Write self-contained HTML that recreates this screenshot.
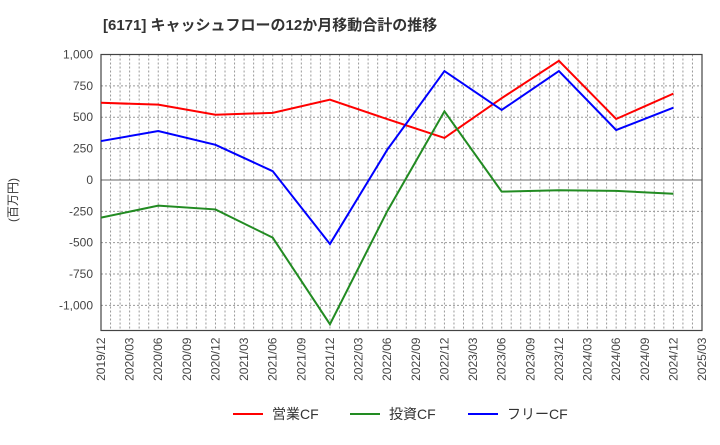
<!DOCTYPE html>
<html><head><meta charset="utf-8"><style>
body{margin:0;background:#fff;font-family:"Liberation Sans","Noto Sans CJK JP",sans-serif}
</style></head><body>
<svg id="c" width="720" height="440" xmlns="http://www.w3.org/2000/svg" font-family="Liberation Sans, Noto Sans CJK JP, sans-serif">
<text x="103" y="30" font-size="15" font-weight="bold" fill="#333">[6171]  キャッシュフローの12か月移動合計の推移</text>
<text transform="translate(17,200) rotate(-90)" text-anchor="middle" font-size="12" fill="#333">(百万円)</text>
<g id="grid"></g><g id="axes"></g><g id="series"></g><g id="legend"></g>
</svg>
<script>
const xLabels=["2019/12","2020/03","2020/06","2020/09","2020/12","2021/03","2021/06","2021/09","2021/12","2022/03","2022/06","2022/09","2022/12","2023/03","2023/06","2023/09","2023/12","2024/03","2024/06","2024/09","2024/12","2025/03"];
const yTicks=[1000,750,500,250,0,-250,-500,-750,-1000];
const pointIdx=[0,2,4,6,8,10,12,14,16,18,20];
const opCF=[615,600,520,535,640,485,335,652,950,486,688];
const invCF=[-300,-205,-235,-460,-1150,-250,547,-93,-82,-87,-110];
const freeCF=[310,390,280,70,-510,240,868,558,868,398,576];
const names=["営業CF","投資CF","フリーCF"];
const L=101,R=702,T=54.5,B=330.5,ymax=1000,ymin=-1200;
const X=i=>L+i*(R-L)/(xLabels.length-1);
const Y=v=>T+(ymax-v)*(B-T)/(ymax-ymin);
const NS="http://www.w3.org/2000/svg";
function mk(t,a,p){const e=document.createElementNS(NS,t);for(const k in a)e.setAttribute(k,a[k]);p.appendChild(e);return e;}
const g=document.getElementById('grid'),ax=document.getElementById('axes'),s=document.getElementById('series'),lg=document.getElementById('legend');
for(let m=1;m<(xLabels.length-1)*3;m++){const x=L+m*(R-L)/((xLabels.length-1)*3);
const l=mk('line',{x1:x,x2:x,y1:T,y2:B,stroke:'#999','stroke-dasharray':'2,2','stroke-width':1},g);

}
for(let v=ymax;v>=ymin;v-=250){const y=Y(v);
const l=mk('line',{x1:L,x2:R,y1:y,y2:y,stroke:v===0?'#666':'#999','stroke-dasharray':v===0?'':'2,2','stroke-width':1},g);

}
yTicks.forEach(v=>{const t=mk('text',{x:L-8,y:Y(v)+4,'text-anchor':'end','font-size':12,fill:'#444'},ax);t.textContent=v.toLocaleString('en-US');

});
xLabels.forEach((lb,i)=>{const t=mk('text',{transform:`translate(${X(i)+4},${B+7}) rotate(-90)`,'text-anchor':'end','font-size':12,fill:'#444'},ax);t.textContent=lb;

});
const fr=mk('rect',{x:L,y:T,width:R-L,height:B-T,fill:'none',stroke:'#444','stroke-width':1.2},ax);


const cols=['#ff0000','#228b22','#0000ff'];
[opCF,invCF,freeCF].forEach((d,k)=>{const p=mk('polyline',{points:d.map((v,j)=>X(pointIdx[j])+','+Y(v)).join(' '),fill:'none',stroke:cols[k],'stroke-width':2},s);

});
const lx=[233,350,468];
names.forEach((n,k)=>{const l=mk('line',{x1:lx[k],x2:lx[k]+30,y1:414,y2:414,stroke:cols[k],'stroke-width':2},lg);


const t=mk('text',{x:lx[k]+39,y:419,'font-size':14,fill:'#333'},lg);t.textContent=n;

});
</script>
</body></html>
